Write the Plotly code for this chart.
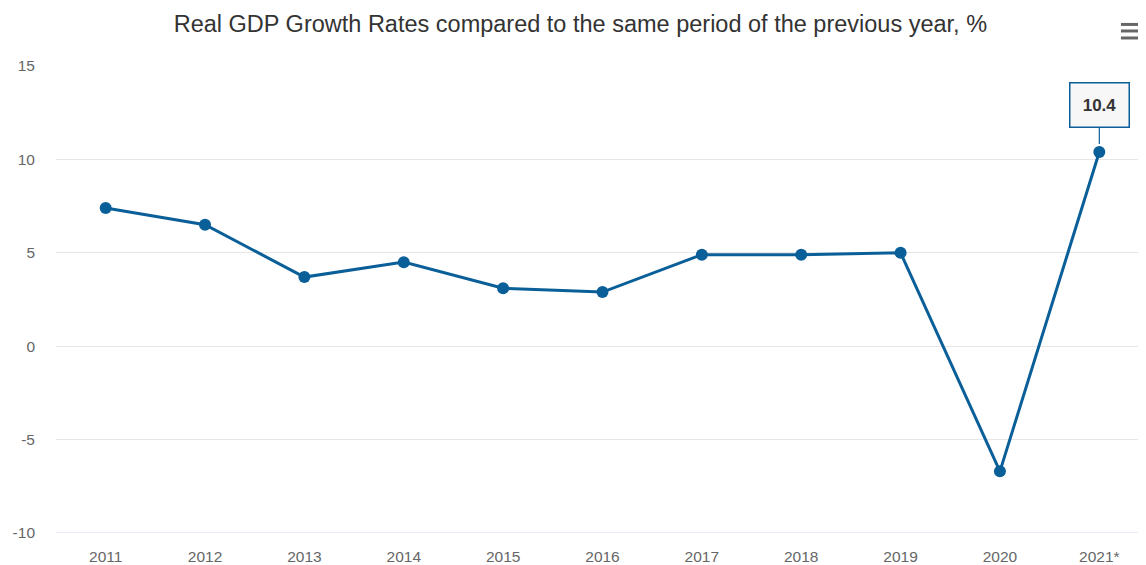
import plotly.graph_objects as go

years = ["2011", "2012", "2013", "2014", "2015", "2016", "2017", "2018", "2019", "2020", "2021*"]
growth = [7.4, 6.5, 3.7, 4.5, 3.1, 2.9, 4.9, 4.9, 5.0, -6.7, 10.4]
y_ticks = [-10, -5, 0, 5, 10, 15]
y_tick_labels = ["-10", "-5", "0", "5", "10", "15"]
title_text = "Real GDP Growth Rates compared to the same period of the previous year, %"

color = "#0a5f98"
font = "Liberation Sans, Arial, sans-serif"

fig = go.Figure()
fig.add_trace(go.Scatter(
    x=years, y=growth, mode="lines+markers",
    line=dict(color=color, width=3),
    marker=dict(color=color, size=12),
    hoverinfo="skip", showlegend=False,
))

# tooltip-like label on the last point
fig.add_annotation(
    x=years[-1], y=growth[-1], text="<b>%.1f</b>" % growth[-1],
    showarrow=True, arrowhead=0, arrowwidth=1.2, arrowcolor=color,
    ax=0, ay=-47, standoff=8,
    width=56, height=41, borderpad=1,
    bgcolor="#f7f7f7", bordercolor=color, borderwidth=1.5,
    font=dict(family=font, size=17, color="#333333"),
)

# hamburger menu icon
for yy in (1.089, 1.075, 1.060):
    fig.add_shape(type="line", xref="paper", yref="paper",
                  x0=0.977, x1=1.0, y0=yy, y1=yy,
                  line=dict(color="#666666", width=3))

fig.update_layout(
    width=1138, height=557,
    margin=dict(l=48, r=0, t=58, b=32),
    paper_bgcolor="white", plot_bgcolor="white",
    title=dict(text=title_text, x=0.503, xanchor="center", yref="container",
               y=0.971, yanchor="middle",
               font=dict(family=font, size=23.5, color="#333333")),
    font=dict(family=font, size=15.5, color="#666666"),
    xaxis=dict(type="category", range=[-0.5, 10.47], showgrid=False,
               showline=False, zeroline=False, ticks="", ticklabelstandoff=12,
               tickfont=dict(size=15.5, color="#666666")),
    yaxis=dict(range=[-10, 15], tickvals=y_ticks, ticktext=y_tick_labels,
               showgrid=True, gridcolor="#e6e6e6",
               gridwidth=1, zeroline=False, ticks="", ticklabelstandoff=20,
               tickfont=dict(size=15.5, color="#666666")),
)

fig.add_shape(type="line", xref="paper", yref="y", x0=0, x1=1, y0=-10, y1=-10,
              line=dict(color="#ccd6eb", width=1), layer="above")

fig.write_html("out.html")
